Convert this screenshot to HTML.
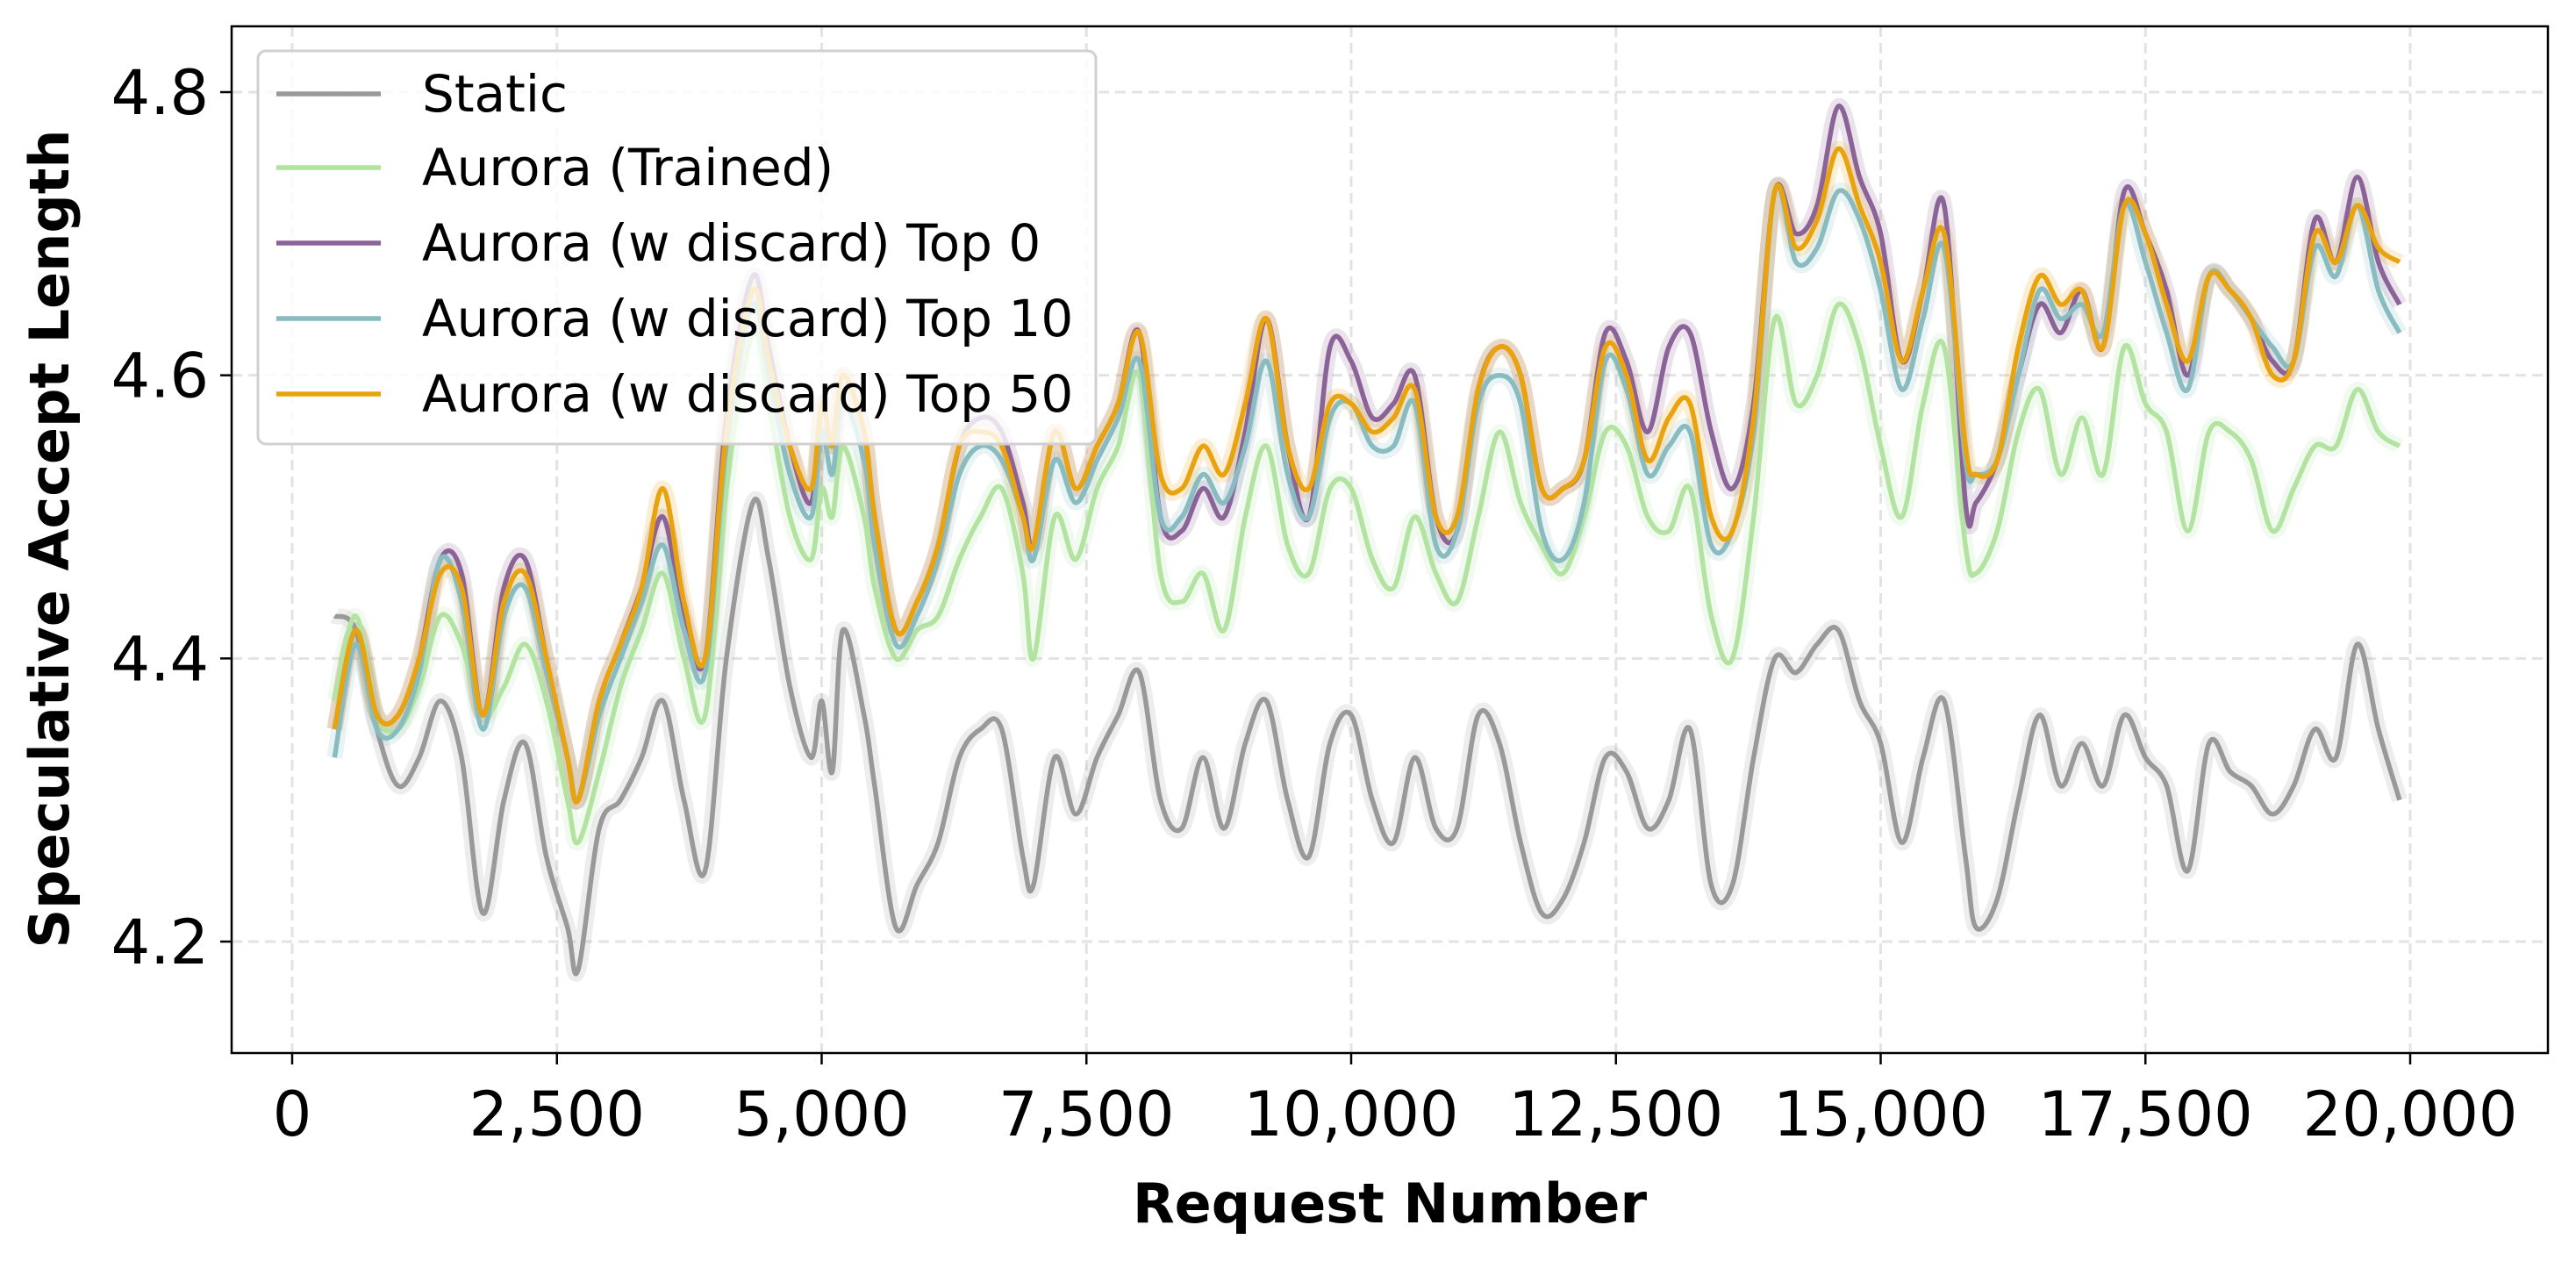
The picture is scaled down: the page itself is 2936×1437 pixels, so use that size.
<!DOCTYPE html>
<html><head><meta charset="utf-8"><style>
html,body{margin:0;padding:0;background:#fff;}
svg{display:block;font-family:"DejaVu Sans","Liberation Sans",sans-serif;}
</style></head><body>
<svg id="chart" width="2936" height="1437" viewBox="0 0 2936 1437" xmlns="http://www.w3.org/2000/svg">
<rect x="0" y="0" width="2936" height="1437" fill="#fff"/>
<g id="grid"></g>
<g id="series"></g>
<rect x="264" y="30" width="2640" height="1170" fill="none" stroke="#000" stroke-width="2.5"/>
<g id="ticks"></g>
<text x="1584" y="1393" text-anchor="middle" font-size="62" font-weight="bold">Request Number</text>
<text transform="translate(78,614) rotate(-90)" text-anchor="middle" font-size="62" font-weight="bold">Speculative Accept Length</text>
<g id="legend"></g>
</svg>
<script>
const xs=[400,600,800,1000,1200,1400,1600,1800,2000,2200,2400,2600,2700,2900,3100,3300,3500,3700,3900,4100,4350,4500,4700,4900,5000,5100,5200,5400,5500,5700,5900,6100,6300,6500,6700,6900,7000,7200,7400,7600,7800,8000,8200,8400,8600,8800,9000,9200,9400,9600,9800,10000,10200,10400,10600,10800,11000,11200,11400,11600,11800,12000,12200,12400,12600,12800,13000,13200,13400,13600,13800,14000,14200,14400,14600,14800,15000,15200,15400,15600,15800,15900,16100,16300,16500,16700,16900,17100,17300,17500,17700,17900,18100,18300,18500,18700,18900,19100,19300,19500,19700,19900];
const staticVals=[4.43,4.42,4.35,4.31,4.33,4.37,4.33,4.22,4.30,4.34,4.26,4.21,4.18,4.28,4.30,4.33,4.37,4.30,4.25,4.40,4.51,4.47,4.38,4.33,4.37,4.32,4.42,4.36,4.31,4.21,4.24,4.27,4.33,4.35,4.35,4.26,4.24,4.33,4.29,4.33,4.36,4.39,4.30,4.28,4.33,4.28,4.34,4.37,4.30,4.26,4.34,4.36,4.30,4.27,4.33,4.28,4.28,4.36,4.34,4.27,4.22,4.23,4.27,4.33,4.32,4.28,4.30,4.35,4.24,4.24,4.33,4.40,4.39,4.41,4.42,4.37,4.34,4.27,4.33,4.37,4.26,4.21,4.23,4.30,4.36,4.31,4.34,4.31,4.36,4.33,4.31,4.25,4.34,4.32,4.31,4.29,4.31,4.35,4.33,4.41,4.35,4.30];
const trainedVals=[4.37,4.43,4.36,4.35,4.38,4.43,4.41,4.36,4.38,4.41,4.37,4.30,4.27,4.32,4.38,4.42,4.46,4.40,4.36,4.52,4.63,4.58,4.50,4.47,4.52,4.50,4.55,4.50,4.45,4.40,4.42,4.43,4.47,4.50,4.52,4.46,4.40,4.50,4.47,4.52,4.55,4.60,4.46,4.44,4.46,4.42,4.50,4.55,4.48,4.46,4.52,4.52,4.47,4.45,4.50,4.46,4.44,4.50,4.56,4.51,4.48,4.46,4.50,4.56,4.55,4.50,4.49,4.52,4.43,4.40,4.50,4.64,4.58,4.60,4.65,4.62,4.55,4.50,4.58,4.62,4.48,4.46,4.49,4.56,4.59,4.53,4.57,4.53,4.62,4.58,4.56,4.49,4.56,4.56,4.54,4.49,4.52,4.55,4.55,4.59,4.56,4.55];
const top0Vals=[4.35,4.42,4.36,4.36,4.40,4.47,4.46,4.36,4.45,4.47,4.40,4.33,4.30,4.37,4.41,4.45,4.50,4.43,4.40,4.57,4.67,4.62,4.55,4.51,4.58,4.55,4.60,4.56,4.50,4.42,4.44,4.48,4.55,4.57,4.56,4.51,4.48,4.56,4.52,4.55,4.58,4.63,4.50,4.49,4.52,4.50,4.56,4.64,4.55,4.50,4.62,4.61,4.57,4.58,4.60,4.50,4.49,4.59,4.62,4.60,4.52,4.52,4.54,4.63,4.61,4.56,4.62,4.63,4.56,4.52,4.58,4.73,4.70,4.72,4.79,4.74,4.70,4.61,4.66,4.72,4.51,4.51,4.54,4.60,4.65,4.63,4.66,4.62,4.73,4.70,4.66,4.60,4.67,4.66,4.64,4.61,4.61,4.71,4.68,4.74,4.68,4.65];
const top10Vals=[4.33,4.41,4.35,4.35,4.39,4.47,4.44,4.35,4.43,4.45,4.39,4.33,4.30,4.36,4.40,4.44,4.48,4.42,4.39,4.55,4.65,4.60,4.53,4.50,4.56,4.53,4.58,4.54,4.48,4.41,4.43,4.47,4.53,4.55,4.54,4.50,4.47,4.54,4.51,4.54,4.57,4.61,4.50,4.50,4.53,4.51,4.55,4.61,4.53,4.50,4.57,4.58,4.55,4.55,4.58,4.48,4.49,4.58,4.60,4.58,4.49,4.47,4.51,4.61,4.59,4.53,4.55,4.56,4.48,4.49,4.56,4.73,4.68,4.69,4.73,4.71,4.66,4.59,4.64,4.69,4.54,4.53,4.54,4.60,4.66,4.64,4.65,4.63,4.72,4.68,4.63,4.59,4.67,4.66,4.64,4.62,4.61,4.69,4.67,4.72,4.66,4.63];
const top50Vals=[4.35,4.42,4.36,4.36,4.40,4.46,4.45,4.36,4.44,4.46,4.40,4.33,4.30,4.37,4.41,4.45,4.52,4.44,4.40,4.56,4.66,4.61,4.55,4.52,4.58,4.55,4.60,4.56,4.50,4.42,4.44,4.48,4.55,4.56,4.55,4.50,4.48,4.56,4.52,4.55,4.58,4.63,4.53,4.52,4.55,4.53,4.58,4.64,4.55,4.52,4.58,4.58,4.56,4.57,4.59,4.50,4.50,4.59,4.62,4.60,4.52,4.52,4.54,4.62,4.60,4.54,4.57,4.58,4.50,4.49,4.57,4.73,4.69,4.71,4.76,4.72,4.68,4.61,4.66,4.70,4.55,4.53,4.54,4.62,4.67,4.65,4.66,4.62,4.72,4.70,4.65,4.61,4.67,4.66,4.64,4.60,4.61,4.70,4.68,4.72,4.69,4.68];
const seriesNames=["Static","Aurora (Trained)","Aurora (w discard) Top 0","Aurora (w discard) Top 10","Aurora (w discard) Top 50"];
const xTicks=[0,2500,5000,7500,10000,12500,15000,17500,20000];
const xTickLabels=["0","2,500","5,000","7,500","10,000","12,500","15,000","17,500","20,000"];
const yTicks=[4.2,4.4,4.6,4.8];
const yTickLabels=["4.2","4.4","4.6","4.8"];

const NS="http://www.w3.org/2000/svg";
const X=v=>333+v*(2747-333)/20000;
const Y=v=>1073-(v-4.2)*(1073-105)/0.6;
function mk(tag,attrs,parent){const e=document.createElementNS(NS,tag);for(const k in attrs)e.setAttribute(k,attrs[k]);parent.appendChild(e);return e;}
const grid=document.getElementById('grid'),ticks=document.getElementById('ticks');
xTicks.forEach((t,i)=>{
  const l=mk('line',{x1:X(t),x2:X(t),y1:30,y2:1200,stroke:'#e3e3e3','stroke-width':3,'stroke-dasharray':'12,7'},grid);
  
  
  const tk=mk('line',{x1:X(t),x2:X(t),y1:1200,y2:1213,stroke:'#000','stroke-width':2.5},ticks);
  
  
  const tx=mk('text',{x:X(t),y:1294,'text-anchor':'middle','font-size':70},ticks);
  tx.textContent=xTickLabels[i];
  
  
});
yTicks.forEach((t,i)=>{
  const l=mk('line',{x1:264,x2:2904,y1:Y(t),y2:Y(t),stroke:'#e3e3e3','stroke-width':3,'stroke-dasharray':'12,7'},grid);
  
  
  const tk=mk('line',{x1:251,x2:264,y1:Y(t),y2:Y(t),stroke:'#000','stroke-width':2.5},ticks);
  
  
  const tx=mk('text',{x:238,y:Y(t)+25,'text-anchor':'end','font-size':70},ticks);
  tx.textContent=yTickLabels[i];
  
  
});
function pathD(vals){
  const p=xs.map((x,i)=>[X(x),Y(vals[i])]);
  let d='M'+p[0][0].toFixed(1)+','+p[0][1].toFixed(1);
  for(let i=0;i<p.length-1;i++){
    const p0=p[Math.max(0,i-1)],p1=p[i],p2=p[i+1],p3=p[Math.min(p.length-1,i+2)];
    const c1=[p1[0]+(p2[0]-p0[0])/6,p1[1]+(p2[1]-p0[1])/6];
    const c2=[p2[0]-(p3[0]-p1[0])/6,p2[1]-(p3[1]-p1[1])/6];
    d+=' C'+c1[0].toFixed(1)+','+c1[1].toFixed(1)+' '+c2[0].toFixed(1)+','+c2[1].toFixed(1)+' '+p2[0].toFixed(1)+','+p2[1].toFixed(1);
  }
  return d;
}
const allVals=[staticVals,trainedVals,top0Vals,top10Vals,top50Vals];
const colors=["#999999","#b2e3a0","#8c6398","#88bcc1","#e9a30f"];
const slugs=["static","aurora-trained","aurora-top0","aurora-top10","aurora-top50"];
const sg=document.getElementById('series');
allVals.forEach((v,i)=>{
  const band=mk('path',{d:pathD(v),fill:'none',stroke:colors[i],'stroke-opacity':0.18,'stroke-width':18,'stroke-linejoin':'round'},sg);
  
  
});
allVals.forEach((v,i)=>{
  const ln=mk('path',{d:pathD(v),fill:'none',stroke:colors[i],'stroke-width':5.5,'stroke-linejoin':'round'},sg);
  
  
});
const lg=document.getElementById('legend');
const box=mk('rect',{x:294,y:58,width:955,height:448,rx:9,fill:'#fff','fill-opacity':0.8,stroke:'#d0d0d0','stroke-width':3},lg);


const rows=[107,191,277,363,449];
seriesNames.forEach((n,i)=>{
  const l=mk('line',{x1:315,x2:434,y1:rows[i],y2:rows[i],stroke:colors[i],'stroke-width':5.5},lg);
  
  
  const t=mk('text',{x:481,y:rows[i]+20,'font-size':58},lg);
  t.textContent=n;
  
  
});
</script>
</body></html>
